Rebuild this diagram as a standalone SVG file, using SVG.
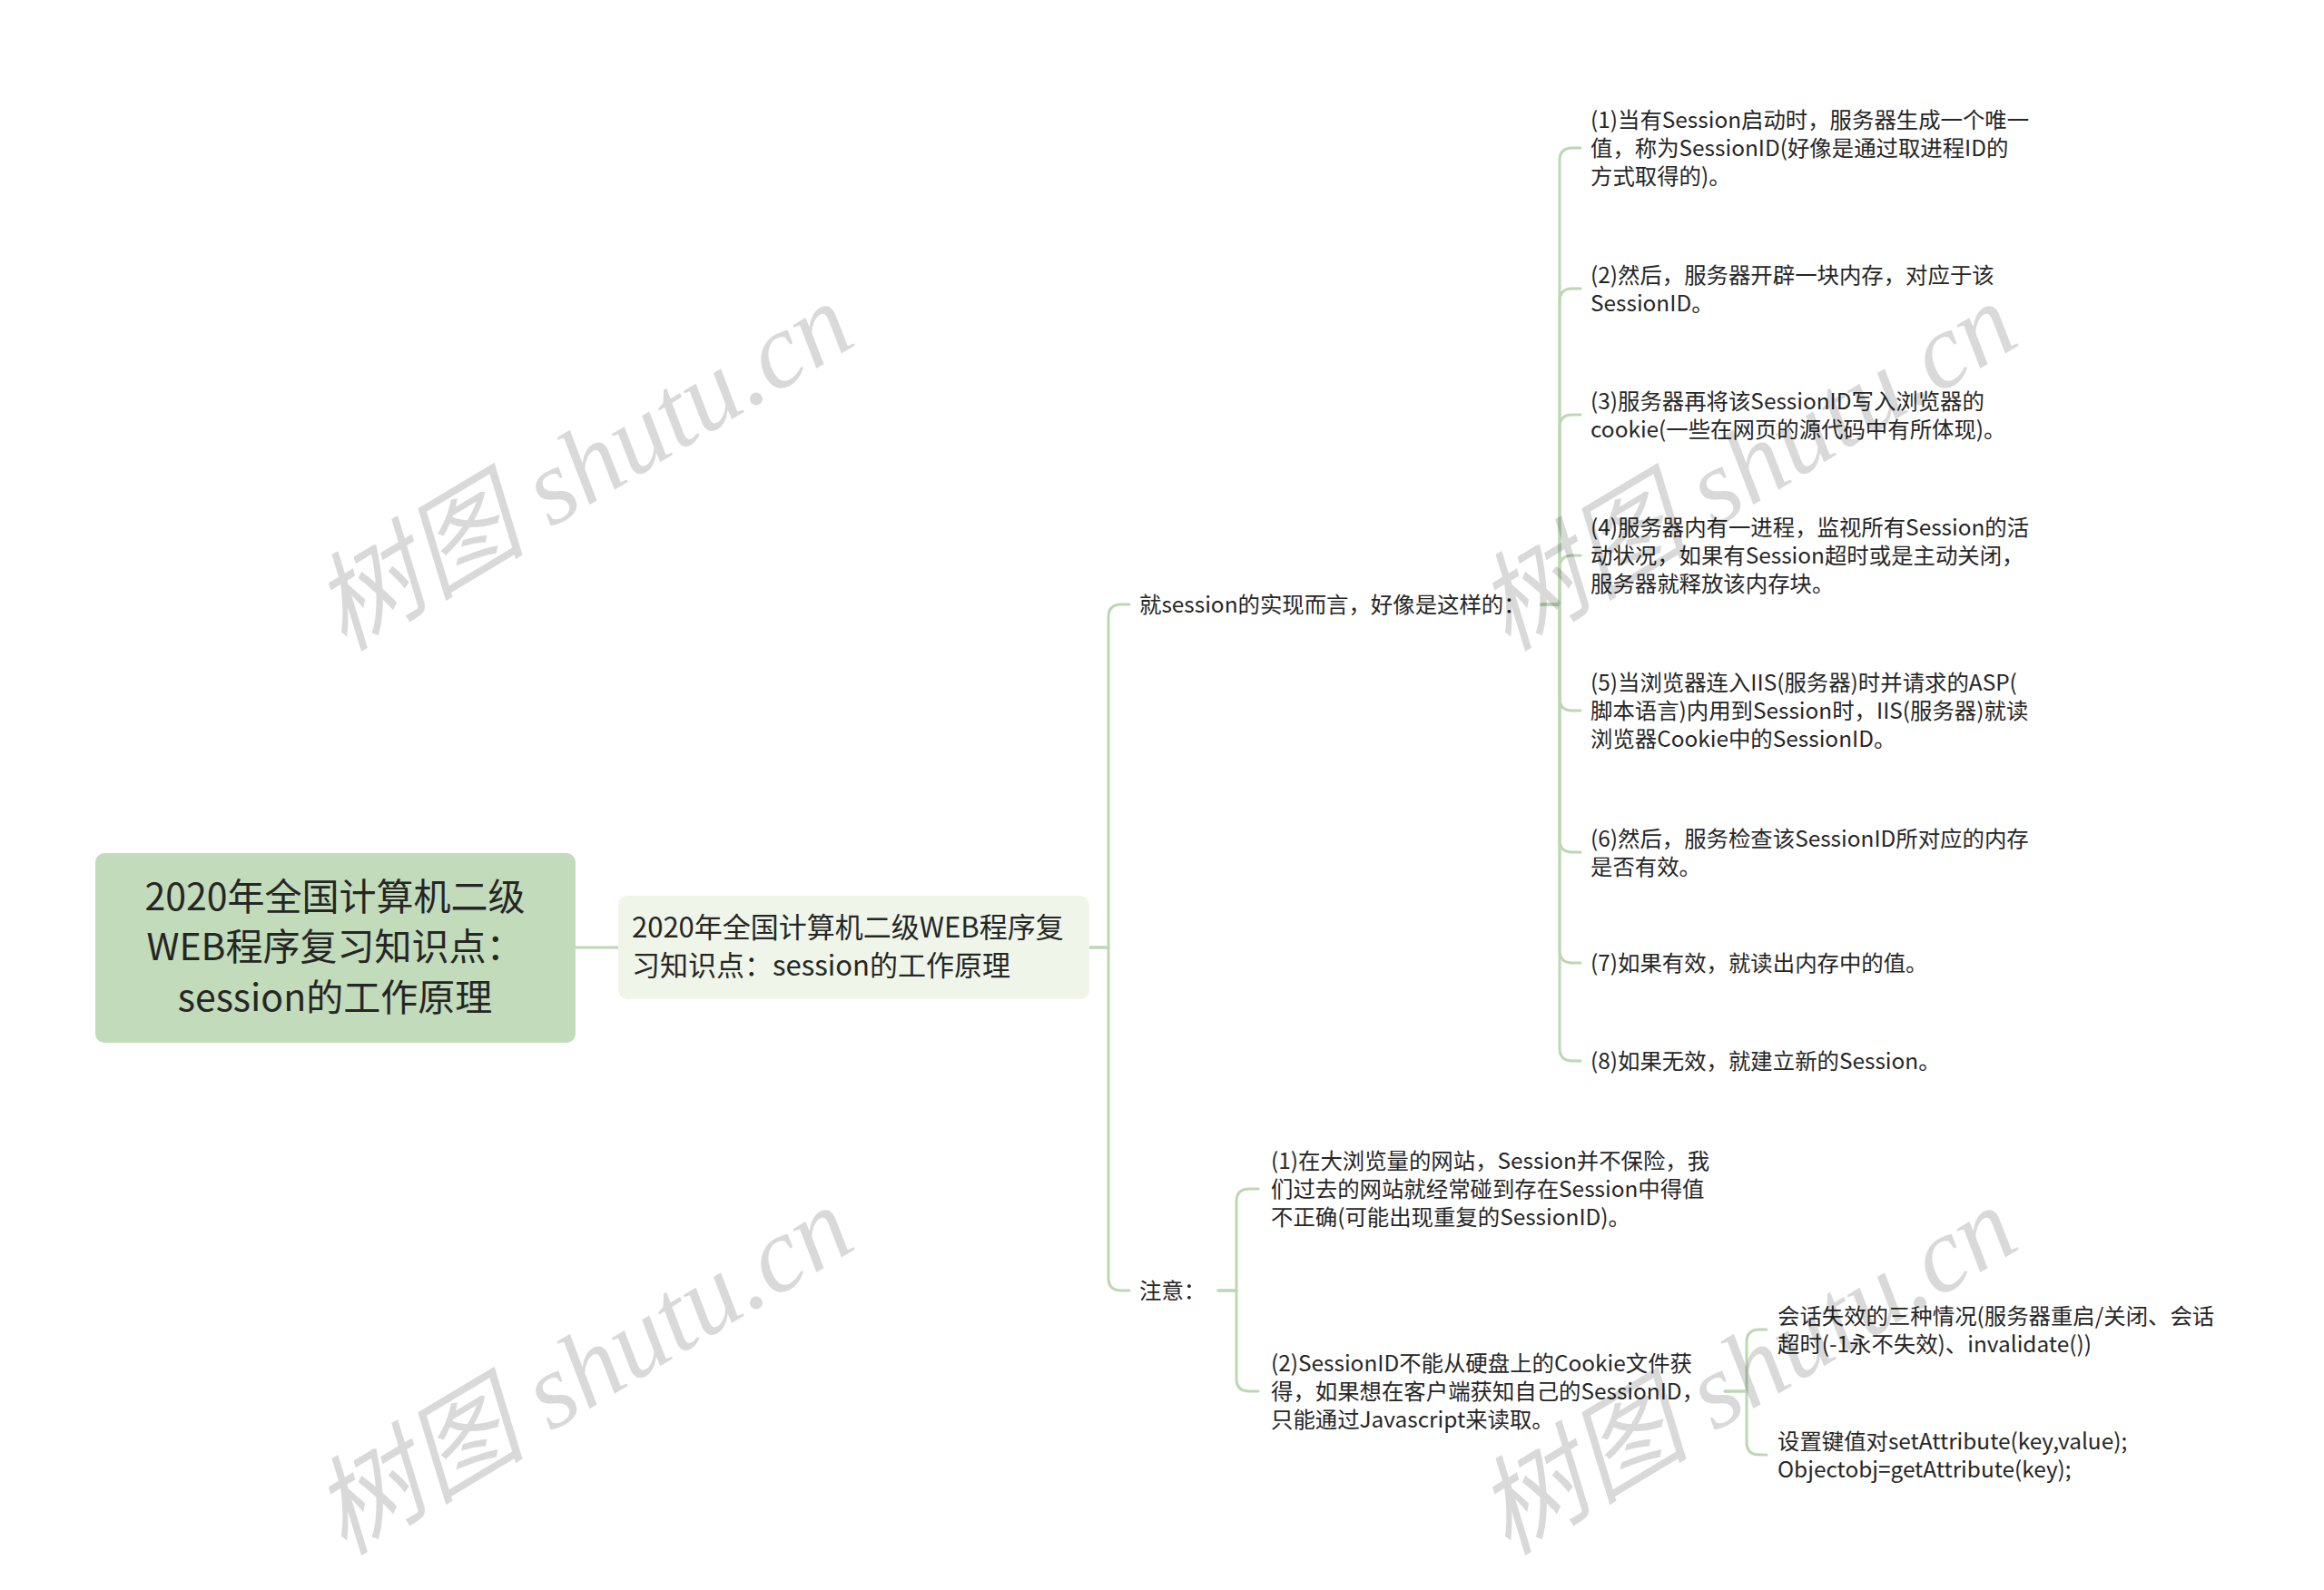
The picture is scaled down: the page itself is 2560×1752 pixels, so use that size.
<svg xmlns="http://www.w3.org/2000/svg" width="2560" height="1752" viewBox="0 0 2560 1752">
<style>
.t{font-family:"Noto Sans CJK SC","Noto Sans",sans-serif;fill:#262626}
.s{font-size:24.4px}
.c{fill:none;stroke:#bcd8b3;stroke-width:3;stroke-linecap:round}
.wm{font-family:"Liberation Serif","Noto Sans CJK SC",serif;font-style:italic;font-size:118px;fill:#000000;fill-opacity:0.15}
</style>
<rect width="2560" height="1752" fill="#ffffff"/>
<g id="connectors">
<path class="c" d="M634,1044 H681"/>
<path class="c" d="M1200,1044 H1221 V680 Q1221,666 1235,666 H1244"/>
<path class="c" d="M1200,1044 H1221 V1408 Q1221,1422 1235,1422 H1244"/>
<path class="c" d="M1698,666 H1718 V177 Q1718,163 1732,163 H1741"/>
<path class="c" d="M1698,666 H1718 V332 Q1718,318 1732,318 H1741"/>
<path class="c" d="M1698,666 H1718 V471 Q1718,457 1732,457 H1741"/>
<path class="c" d="M1698,666 H1718 V626 Q1718,612 1732,612 H1741"/>
<path class="c" d="M1698,666 H1718 V769 Q1718,783 1732,783 H1741"/>
<path class="c" d="M1698,666 H1718 V925 Q1718,939 1732,939 H1741"/>
<path class="c" d="M1698,666 H1718 V1047 Q1718,1061 1732,1061 H1741"/>
<path class="c" d="M1698,666 H1718 V1155 Q1718,1169 1732,1169 H1741"/>
<path class="c" d="M1342,1422 H1362 V1324 Q1362,1310 1376,1310 H1386"/>
<path class="c" d="M1342,1422 H1362 V1519 Q1362,1533 1376,1533 H1386"/>
<path class="c" d="M1900,1533 H1924 V1479 Q1924,1465 1938,1465 H1946"/>
<path class="c" d="M1900,1533 H1924 V1589 Q1924,1603 1938,1603 H1946"/>
</g>
<g id="root">
<rect x="105" y="940" width="529" height="209" rx="10" fill="#c2dbba"/>
<text class="t" font-size="41" text-anchor="middle"><tspan x="369" y="1003">2020年全国计算机二级</tspan><tspan x="369" y="1058">WEB程序复习知识点：</tspan><tspan x="369" y="1114">session的工作原理</tspan></text>
</g>
<g id="main">
<rect x="681" y="987" width="519" height="114" rx="10" fill="#eff6e9"/>
<text class="t" font-size="31"><tspan x="696" y="1033">2020年全国计算机二级WEB程序复</tspan><tspan x="696" y="1075">习知识点：session的工作原理</tspan></text>
</g>
<g id="impl"><text class="t s" x="1255" y="675">就session的实现而言，好像是这样的：</text></g>
<g id="note"><text class="t s" x="1255" y="1431">注意：</text></g>
<g id="i1"><text class="t s"><tspan x="1752" y="141">(1)当有Session启动时，服务器生成一个唯一</tspan><tspan x="1752" y="172">值，称为SessionID(好像是通过取进程ID的</tspan><tspan x="1752" y="203">方式取得的)。</tspan></text></g>
<g id="i2"><text class="t s"><tspan x="1752" y="311.5">(2)然后，服务器开辟一块内存，对应于该</tspan><tspan x="1752" y="342.5">SessionID。</tspan></text></g>
<g id="i3"><text class="t s"><tspan x="1752" y="450.5">(3)服务器再将该SessionID写入浏览器的</tspan><tspan x="1752" y="481.5">cookie(一些在网页的源代码中有所体现)。</tspan></text></g>
<g id="i4"><text class="t s"><tspan x="1752" y="590">(4)服务器内有一进程，监视所有Session的活</tspan><tspan x="1752" y="621">动状况，如果有Session超时或是主动关闭，</tspan><tspan x="1752" y="652">服务器就释放该内存块。</tspan></text></g>
<g id="i5"><text class="t s"><tspan x="1752" y="761">(5)当浏览器连入IIS(服务器)时并请求的ASP(</tspan><tspan x="1752" y="792">脚本语言)内用到Session时，IIS(服务器)就读</tspan><tspan x="1752" y="823">浏览器Cookie中的SessionID。</tspan></text></g>
<g id="i6"><text class="t s"><tspan x="1752" y="932.5">(6)然后，服务检查该SessionID所对应的内存</tspan><tspan x="1752" y="963.5">是否有效。</tspan></text></g>
<g id="i7"><text class="t s" x="1752" y="1070">(7)如果有效，就读出内存中的值。</text></g>
<g id="i8"><text class="t s" x="1752" y="1178">(8)如果无效，就建立新的Session。</text></g>
<g id="n1"><text class="t s"><tspan x="1400" y="1288">(1)在大浏览量的网站，Session并不保险，我</tspan><tspan x="1400" y="1319">们过去的网站就经常碰到存在Session中得值</tspan><tspan x="1400" y="1350">不正确(可能出现重复的SessionID)。</tspan></text></g>
<g id="n2"><text class="t s"><tspan x="1400" y="1511">(2)SessionID不能从硬盘上的Cookie文件获</tspan><tspan x="1400" y="1542">得，如果想在客户端获知自己的SessionID，</tspan><tspan x="1400" y="1573">只能通过Javascript来读取。</tspan></text></g>
<g id="s1"><text class="t s"><tspan x="1958" y="1458.5">会话失效的三种情况(服务器重启/关闭、会话</tspan><tspan x="1958" y="1489.5">超时(-1永不失效)、invalidate())</tspan></text></g>
<g id="s2"><text class="t s"><tspan x="1958" y="1596.5">设置键值对setAttribute(key,value);</tspan><tspan x="1958" y="1627.5">Objectobj=getAttribute(key);</tspan></text></g>
<g id="watermarks">
<text class="wm" text-anchor="middle" transform="translate(642,514) rotate(-31)" y="40">树图 shutu.cn</text>
<text class="wm" text-anchor="middle" transform="translate(642,1510) rotate(-31)" y="40">树图 shutu.cn</text>
<text class="wm" text-anchor="middle" transform="translate(1924,514) rotate(-31)" y="40">树图 shutu.cn</text>
<text class="wm" text-anchor="middle" transform="translate(1924,1510) rotate(-31)" y="40">树图 shutu.cn</text>
</g>
</svg>
